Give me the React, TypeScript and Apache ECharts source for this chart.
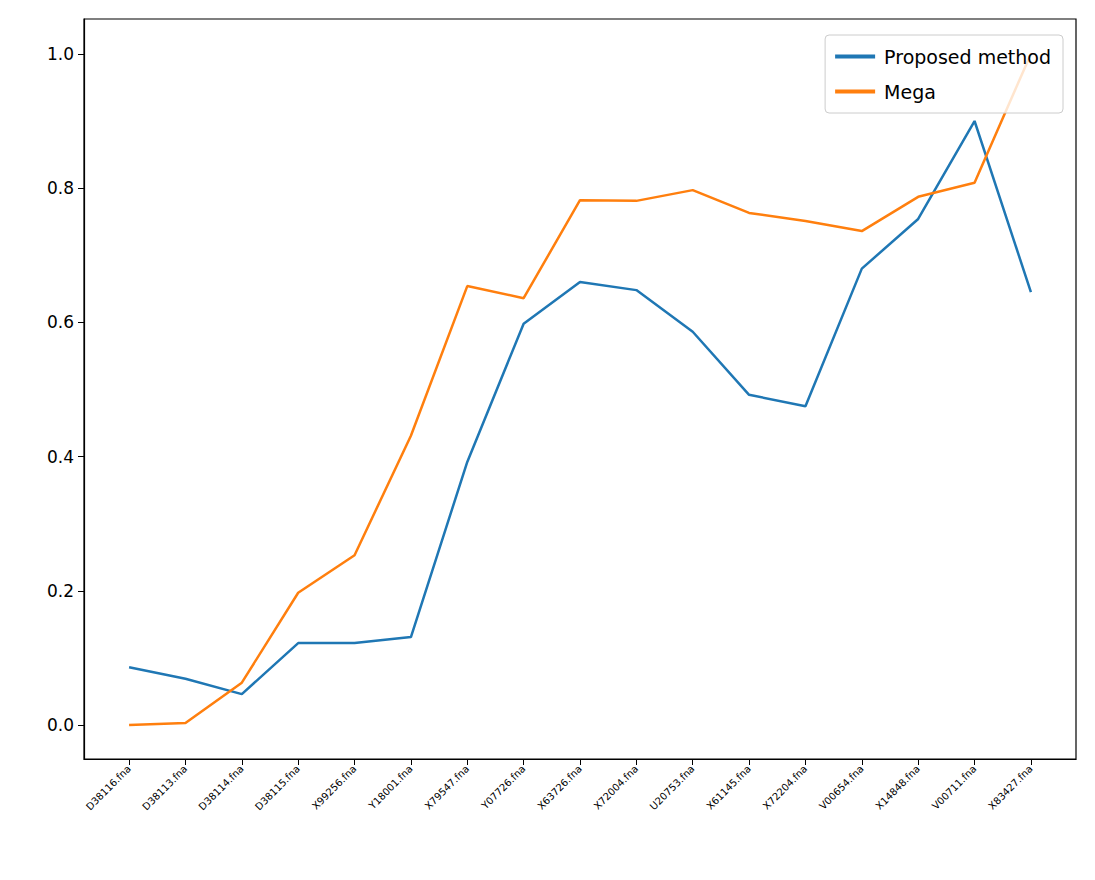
import React, { useEffect, useRef } from "react";
import * as echarts from "echarts";

const categories = ["D38116.fna","D38113.fna","D38114.fna","D38115.fna","X99256.fna","Y18001.fna","X79547.fna","Y07726.fna","X63726.fna","X72004.fna","U20753.fna","X61145.fna","X72204.fna","V00654.fna","X14848.fna","V00711.fna","X83427.fna"];
const proposed = [0.086,0.069,0.046,0.122,0.122,0.131,0.392,0.598,0.660,0.648,0.586,0.492,0.475,0.680,0.754,0.900,0.645];
const mega = [0.0,0.003,0.063,0.197,0.253,0.431,0.654,0.636,0.782,0.781,0.797,0.763,0.751,0.736,0.787,0.808,1.0];
const yTicks = [0, 0.2, 0.4, 0.6, 0.8, 1.0];

export default function App() {
  const ref = useRef<HTMLDivElement>(null);
  useEffect(() => {
    const chart = echarts.init(ref.current!, null, { renderer: "svg" });
    const idx = categories.map((_, i) => i);
    chart.setOption({
      animation: false,
      textStyle: { fontFamily: "DejaVu Sans" },
      grid: { left: 76, top: 11, width: 992, height: 740, show: true, borderColor: "#000", borderWidth: 1.2 },
      legend: {
        right: 24, top: 27, orient: "vertical", itemGap: 16, itemWidth: 40, itemHeight: 14,
        padding: [12, 12, 12, 10],
        borderColor: "#ccc", borderWidth: 1, borderRadius: 4, backgroundColor: "rgba(255,255,255,0.8)",
        textStyle: { fontSize: 19, color: "#000", padding: [0, 0, 0, 4] },
        data: [{ name: "Proposed method", icon: "path://M0,0H10V1H0Z" }, { name: "Mega", icon: "path://M0,0H10V1H0Z" }],
      },
      xAxis: {
        type: "value", min: -0.8, max: 16.8,
        splitLine: { show: false },
        axisLine: { show: true, onZero: false, lineStyle: { color: "#000", width: 1.2 } },
        axisTick: { show: true, customValues: idx, length: 6, lineStyle: { color: "#000" } },
        axisLabel: {
          customValues: idx, rotate: 45, fontSize: 10, color: "#000", margin: 8,
          formatter: (v: number) => categories[Math.round(v)] ?? "",
        },
      },
      yAxis: {
        type: "value", min: -0.0507, max: 1.052,
        splitLine: { show: false },
        axisLine: { show: true, onZero: false, lineStyle: { color: "#000", width: 1.2 } },
        axisTick: { show: true, customValues: yTicks, length: 6, lineStyle: { color: "#000" } },
        axisLabel: { customValues: yTicks, fontSize: 17, color: "#000", margin: 10, formatter: (v: number) => v.toFixed(1) },
      },
      series: [
        { name: "Proposed method", type: "line", data: proposed.map((v, i) => [i, v]), showSymbol: false, color: "#1f77b4", lineStyle: { width: 2.5 } },
        { name: "Mega", type: "line", data: mega.map((v, i) => [i, v]), showSymbol: false, color: "#ff7f0e", lineStyle: { width: 2.5 } },
      ],
    });
    return () => chart.dispose();
  }, []);
  return <div ref={ref} style={{ width: 1079, height: 864 }} />;
}
